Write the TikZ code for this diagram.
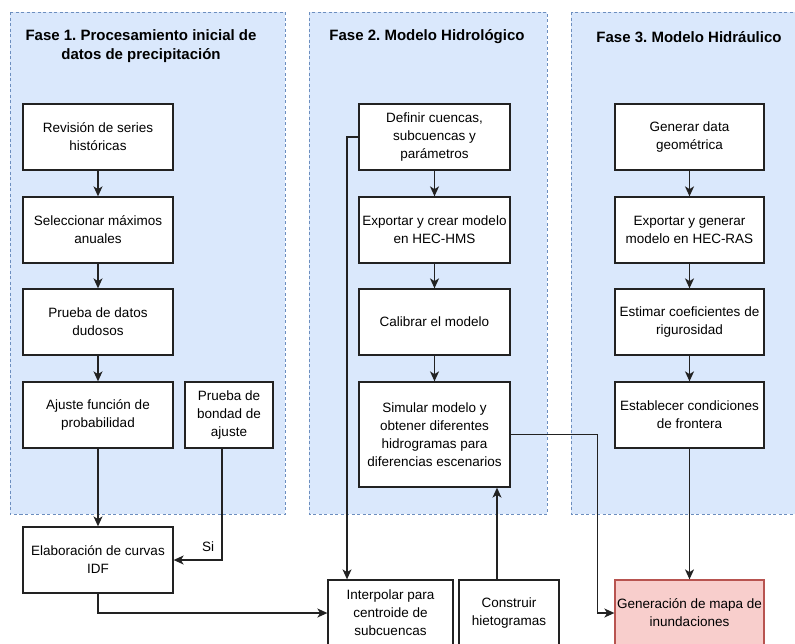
\documentclass[tikz,border=0pt]{standalone}
\usepackage{fontspec}
\setmainfont{Liberation Sans}
\usetikzlibrary{arrows.meta,calc}
\definecolor{panelfill}{HTML}{DAE8FC}
\definecolor{panelline}{HTML}{6C8EBF}
\definecolor{boxline}{HTML}{222222}
\definecolor{mapfill}{HTML}{F8CECC}
\definecolor{mapline}{HTML}{B85450}
\frenchspacing
\tikzset{
  panel/.style={fill=panelfill,draw=panelline,line width=0.9pt,dash pattern=on 3pt off 2.5pt},
  stepbox/.style={draw=boxline,fill=white,line width=1.3pt,rectangle,align=center,inner sep=0pt,
    font=\fontsize{13.5}{18}\selectfont},
  titletext/.style={align=center,font=\bfseries\fontsize{15}{19.5}\selectfont,inner sep=0pt},
  arr/.style={draw=boxline,line width=1.3pt,-{Stealth[length=10pt,width=9pt,inset=2.8pt]}},
}
\begin{document}
\begin{tikzpicture}[x=1pt,y=-1pt]
\useasboundingbox (0,0) rectangle (795,643);
\clip (0,0) rectangle (795,643);
\fill[white] (0,0) rectangle (795,643);
% panels
\path[panel] (10,12) rectangle (285,514);
\path[panel] (309,12) rectangle (547,514);
\path[panel] (571,12) rectangle (815,514);
% titles
\node[titletext] (t1) at (141,46) {Fase 1. Procesamiento inicial de\\datos de precipitación};
\node[titletext] (t2) at (427,37) {Fase 2. Modelo Hidrológico};
\node[titletext] (t3) at (689,37) {Fase 3. Modelo Hidráulico};
% phase 1
\node[stepbox,minimum width=150pt,minimum height=66pt] (rev) at (98,137) {Revisión de series\\históricas};
\node[stepbox,minimum width=150pt,minimum height=66pt] (sel) at (98,230) {Seleccionar máximos\\anuales};
\node[stepbox,minimum width=150pt,minimum height=66pt] (dud) at (98,322) {Prueba de datos\\dudosos};
\node[stepbox,minimum width=150pt,minimum height=66pt] (aju) at (98,415) {Ajuste función de\\probabilidad};
\node[stepbox,minimum width=88pt,minimum height=66pt] (bon) at (229,415) {Prueba de\\bondad de\\ajuste};
\node[stepbox,minimum width=150pt,minimum height=66pt] (idf) at (98,560) {Elaboración de curvas\\IDF};
% phase 2
\node[stepbox,minimum width=151pt,minimum height=66pt] (def) at (434.5,137) {Definir cuencas,\\subcuencas y\\parámetros};
\node[stepbox,minimum width=151pt,minimum height=66pt] (hms) at (434.5,230) {Exportar y crear modelo\\en HEC-HMS};
\node[stepbox,minimum width=151pt,minimum height=66pt] (cal) at (434.5,322) {Calibrar el modelo};
\node[stepbox,minimum width=151pt,minimum height=105pt] (sim) at (434.5,434.5) {Simular modelo y\\obtener diferentes\\hidrogramas para\\diferencias escenarios};
% phase 3
\node[stepbox,minimum width=149pt,minimum height=66pt] (geo) at (689.5,137) {Generar data\\geométrica};
\node[stepbox,minimum width=149pt,minimum height=66pt] (ras) at (689.5,230) {Exportar y generar\\modelo en HEC-RAS};
\node[stepbox,minimum width=149pt,minimum height=66pt] (est) at (689.5,322) {Estimar coeficientes de\\rigurosidad};
\node[stepbox,minimum width=149pt,minimum height=66pt] (fro) at (689.5,415) {Establecer condiciones\\de frontera};
% bottom
\node[stepbox,minimum width=125pt,minimum height=66pt] (int) at (390.5,613) {Interpolar para\\centroide de\\subcuencas};
\node[stepbox,minimum width=100pt,minimum height=66pt] (hie) at (509,613) {Construir\\hietogramas};
\node[stepbox,minimum width=149pt,minimum height=66pt,fill=mapfill,draw=mapline] (map) at (689.5,613) {Generación de mapa de\\inundaciones};
% connectors
\draw[arr] (rev) -- (sel);
\draw[arr] (sel) -- (dud);
\draw[arr] (dud) -- (aju);
\draw[arr] (aju) -- (idf);
\draw[arr] ([xshift=-7pt]bon.south) |- (idf.east);
\node[font=\fontsize{13.5}{17}\selectfont,inner sep=0pt] (si) at (208,547) {Si};
\draw[arr] (idf.south) |- (int.west);
\draw[arr] (def) -- (hms);
\draw[arr] (hms) -- (cal);
\draw[arr] (cal) -- (sim);
\draw[arr] (def.west) -| ([xshift=-43.5pt]int.north);
\draw[arr] ([xshift=-12pt]hie.north) -- ([xshift=-12pt]hie.north |- sim.south);
\draw[arr] (sim.east) -- ++(87,0) |- (map.west);
\draw[arr] (geo) -- (ras);
\draw[arr] (ras) -- (est);
\draw[arr] (est) -- (fro);
\draw[arr] (fro) -- (map);
\end{tikzpicture}
\end{document}
